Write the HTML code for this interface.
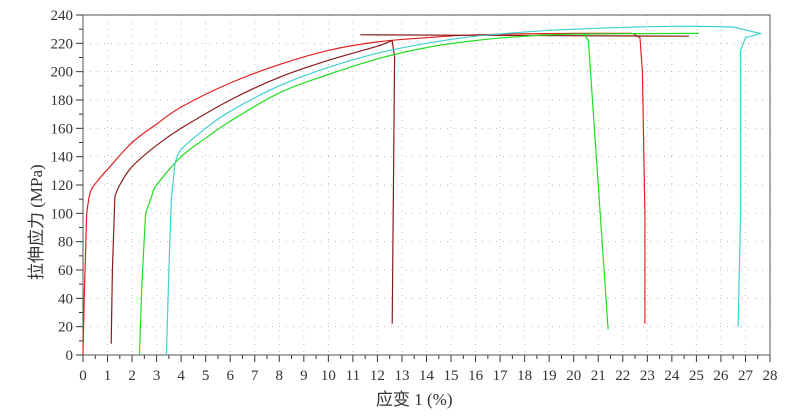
<!DOCTYPE html>
<html><head><meta charset="utf-8"><style>
body{margin:0;background:#fff}
svg{display:block}
text{font-family:"Liberation Serif","Noto Serif CJK SC",serif;font-size:15px;fill:#333}
</style></head><body>
<svg width="800" height="418" viewBox="0 0 800 418">
<g id="grid" stroke="#bbb" stroke-width="1" stroke-dasharray="1 6"></g>
<g id="ticks" stroke="#333" stroke-width="1"></g>
<g id="labels"></g>
<rect x="83" y="15" width="687" height="340" fill="none" stroke="#555" stroke-width="1"/>
<g fill="none" stroke-width="1.2" id="curves"></g>
<text x="376" y="405" style="font-family:'Liberation Serif','Noto Sans CJK SC',sans-serif;font-size:17px">应变 1 (%)</text>
<text transform="translate(42,280) rotate(-90)" style="font-family:'Liberation Serif','Noto Sans CJK SC',sans-serif;font-size:17px">拉伸应力 (MPa)</text>
</svg>
<script>
const X=x=>83+24.536*x, Y=v=>355-1.4167*v;
const ns="http://www.w3.org/2000/svg";
function el(p,t,a,txt){const e=document.createElementNS(ns,t);for(const k in a)e.setAttribute(k,a[k]);if(txt!=null)e.textContent=txt;document.getElementById(p).appendChild(e);}
for(let i=1;i<28;i++)el("grid","line",{x1:X(i),x2:X(i),y1:15,y2:355});
for(let v=20;v<240;v+=20)el("grid","line",{x1:83,x2:770,y1:Y(v),y2:Y(v)});
for(let i=0;i<=56;i++){const x=X(i/2);el("ticks","line",{x1:x,x2:x,y1:355,y2:i%2?359:362});}
for(let v=0;v<=240;v+=10){el("ticks","line",{x1:v%20?79:76,x2:83,y1:Y(v),y2:Y(v)});}
for(let i=0;i<=28;i++)el("labels","text",{x:X(i),y:380,"text-anchor":"middle"},i);
for(let v=0;v<=240;v+=20)el("labels","text",{x:73,y:Y(v)+5,"text-anchor":"end"},v);
function path(c,pts){
  const P=pts.map(p=>[X(p[0]),Y(p[1])]);
  let d="M"+P[0][0].toFixed(1)+","+P[0][1].toFixed(1);
  for(let i=0;i<P.length-1;i++){
    const p0=P[Math.max(0,i-1)],p1=P[i],p2=P[i+1],p3=P[Math.min(P.length-1,i+2)];
    const c1=[p1[0]+(p2[0]-p0[0])/6,p1[1]+(p2[1]-p0[1])/6];
    const c2=[p2[0]-(p3[0]-p1[0])/6,p2[1]-(p3[1]-p1[1])/6];
    d+="C"+c1.map(v=>v.toFixed(1))+" "+c2.map(v=>v.toFixed(1))+" "+p2.map(v=>v.toFixed(1));
  }
  el("curves","path",{stroke:c,d:d});
}
function line(c,pts){el("curves","path",{stroke:c,d:"M"+pts.map(p=>X(p[0]).toFixed(1)+","+Y(p[1]).toFixed(1)).join("L")});}
line("#e02020",[[0,0],[0.05,40],[0.15,100]]);
path("#e02020",[[0.15,100],[0.3,115],[0.6,123],[1,131],[2,150],[3,163],[4,175],[6,192],[8,205],[10,215],[12,221],[14,224],[16,226],[20,227],[22.4,227]]);
line("#e02020",[[22.4,227],[22.7,224],[22.8,200],[22.9,100],[22.9,22]]);
line("#8b1a1a",[[1.15,8],[1.2,60],[1.3,112]]);
path("#8b1a1a",[[1.3,112],[1.5,120],[2,133],[3,148],[4,160],[6,180],[8,196],[10,208],[12,218],[12.6,222]]);
line("#8b1a1a",[[12.6,222],[12.7,210],[12.6,22]]);
line("#8b1a1a",[[11.3,226],[24.7,225]]);
line("#22dd22",[[2.3,0],[2.4,50],[2.55,100]]);
path("#22dd22",[[2.55,100],[2.8,112],[3,120],[4,140],[5,153],[6,165],[8,185],[10,198],[12,209],[14,217],[16,222],[18,225],[20,226.5],[25.1,227]]);
line("#22dd22",[[20.4,227],[20.6,222],[21.4,18]]);
line("#40d0d0",[[3.4,0],[3.5,60],[3.6,110],[3.75,135]]);
path("#40d0d0",[[3.75,135],[4,145],[5,160],[6,172],[8,190],[10,203],[12,213],[14,220],[16,225],[18,228],[20,230],[24,232],[26.5,231.5]]);
line("#40d0d0",[[26.5,231.5],[27.6,227],[27,224],[26.8,215],[26.8,100],[26.7,20]]);
</script>
</body></html>
